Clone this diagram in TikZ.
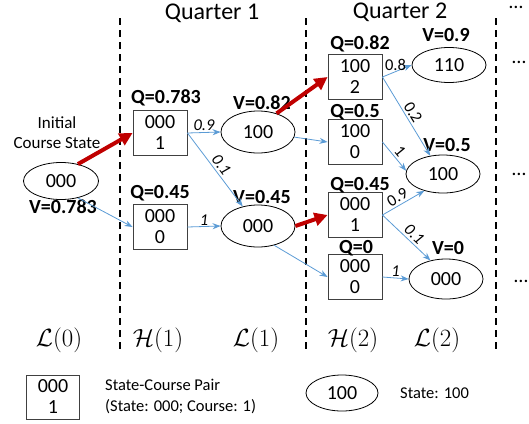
\documentclass[tikz,border=0pt]{standalone}
\usepackage[no-math]{fontspec}
\setmainfont{Carlito}
\usetikzlibrary{arrows.meta,shapes.geometric}
\definecolor{myblue}{HTML}{5B9BD5}
\definecolor{myred}{HTML}{C00000}
\begin{document}
\begin{tikzpicture}[x=1pt,y=-1pt,
  st/.style={draw=black,line width=0.8pt,ellipse,minimum width=74pt,minimum height=40pt,inner sep=0pt,font=\fontsize{20}{21}\selectfont},
  pr/.style={draw=black!75,line width=0.9pt,rectangle,minimum width=54pt,minimum height=45pt,inner sep=0pt,align=center,font=\fontsize{20}{21}\selectfont},
  val/.style={font=\bfseries\fontsize{20}{22}\selectfont,inner sep=0pt},
  el/.style={font=\itshape\fontsize{16.5}{16.5}\selectfont,inner sep=2pt},
  elu/.style={font=\fontsize{16.5}{16.5}\selectfont,inner sep=2pt},
  blu/.style={draw=myblue,line width=0.8pt,-{Stealth[length=8pt,width=6pt]}},
  rd/.style={draw=myred,line width=4pt,-{Triangle[length=13pt,width=13pt]}},
  dsh/.style={draw=black,line width=1.6pt,dash pattern=on 7pt off 5pt},
  ttl/.style={font=\fontsize{24}{24}\selectfont,inner sep=0pt},
  dots/.style={font=\fontsize{20}{20}\selectfont,inner sep=0pt},
  mth/.style={font=\fontsize{25}{25}\selectfont,inner sep=0pt},
  lg/.style={font=\fontsize{16.5}{21}\selectfont,align=left,inner sep=0pt,anchor=west}
]
\useasboundingbox (0,0) rectangle (529,423);

% dashed separators
\draw[dsh] (120,18) -- (120,352);
\draw[dsh] (306,18) -- (306,352);
\draw[dsh] (496,18) -- (496,352);

% titles
\node[ttl] (q1) at (212,13) {Quarter 1};
\node[ttl] (q2) at (400,12) {Quarter 2};
\node[dots] (d0) at (516,7) {\dots};
\node[dots] (d1) at (519,62) {\dots};
\node[dots] (d2) at (519,174) {\dots};
\node[dots] (d3) at (521,281) {\dots};

% layer 0
\node[font=\fontsize{17}{20}\selectfont,align=center,inner sep=0pt] (init) at (57,133) {Initial\\Course State};
\node[st,minimum width=75pt,minimum height=37pt] (L0) at (61,181) {000};
\node[val] (vL0) at (63,207) {V=0.783};

% layer H1
\node[pr] (H1a) at (160,133) {000\\1};
\node[pr] (H1b) at (160,227) {000\\0};
\node[val] (qH1a) at (166,98) {Q=0.783};
\node[val] (qH1b) at (160,193) {Q=0.45};

% layer L1
\node[st,minimum height=42pt] (L1a) at (258,132) {100};
\node[st,minimum height=42pt] (L1b) at (258,226) {000};
\node[val] (vL1a) at (262,103) {V=0.82};
\node[val] (vL1b) at (262,197) {V=0.45};

% layer H2
\node[pr] (H2a) at (355,77) {100\\2};
\node[pr] (H2b) at (355,142) {100\\0};
\node[pr] (H2c) at (355,215) {000\\1};
\node[pr] (H2d) at (355,277) {000\\0};
\node[val] (qH2a) at (360,44) {Q=0.82};
\node[val] (qH2b) at (355,112) {Q=0.5};
\node[val] (qH2c) at (360,185) {Q=0.45};
\node[val] (qH2d) at (356,248) {Q=0};

% layer L2
\node[st,minimum height=35pt] (L2a) at (449,65) {110};
\node[st,minimum height=38pt] (L2b) at (443,174) {100};
\node[st] (L2c) at (446,279) {000};
\node[val] (vL2a) at (446,35) {V=0.9};
\node[val] (vL2b) at (447,145) {V=0.5};
\node[val] (vL2c) at (448,248) {V=0};

% red best-action arrows
\draw[rd] (L0.45) -- (H1a.west);
\draw[rd] (L1a.45) -- (H2a.west);
\draw[rd] (L1b.east) -- (H2c.west);

% blue arrows
\draw[blu] (L0.-45) -- (H1b.west);
\draw[blu] (H1a.east) -- node[el,above,inner sep=1pt] {0.9} (L1a.west);
\draw[blu] (H1a.east) -- node[el,above,sloped] {0.1} (L1b.128);
\draw[blu] (H1b.east) -- node[el,above,inner sep=1pt] {1} (L1b.west);
\draw[blu] (L1a.-8) -- (H2b.west);
\draw[blu] (L1b.-50) -- (H2d.west);
\draw[blu] (H2a.east) -- node[elu,above,pos=0.45,inner sep=1pt] {0.8} (L2a.west);
\draw[blu] (H2a.east) -- node[elu,above,sloped] {0.2} (L2b.125);
\draw[blu] (H2b.east) -- node[elu,above,sloped] {1} (L2b.175);
\draw[blu] (H2c.east) -- node[elu,above,sloped,pos=0.45] {0.9} (L2b.222);
\draw[blu] (H2c.east) -- node[el,above,sloped,pos=0.55] {0.1} (L2c.130);
\draw[blu] (H2d.east) -- node[el,above,inner sep=1pt] {1} (L2c.west);

% layer labels
\node[mth] (m0) at (59,340) {$\mathcal{L}(0)$};
\node[mth] (m1) at (158,340) {$\mathcal{H}(1)$};
\node[mth] (m2) at (256,340) {$\mathcal{L}(1)$};
\node[mth] (m3) at (353,340) {$\mathcal{H}(2)$};
\node[mth] (m4) at (437,340) {$\mathcal{L}(2)$};

% legend
\node[pr,minimum width=53pt,minimum height=44pt] (lgp) at (53,397) {000\\1};
\node[lg] (lgpt) at (105,396) {State-Course Pair\\(State: 000; Course: 1)};
\node[st,minimum width=72pt,minimum height=36pt] (lgs) at (342,393) {100};
\node[lg] (lgst) at (400,393) {State: 100};
\end{tikzpicture}
\end{document}
